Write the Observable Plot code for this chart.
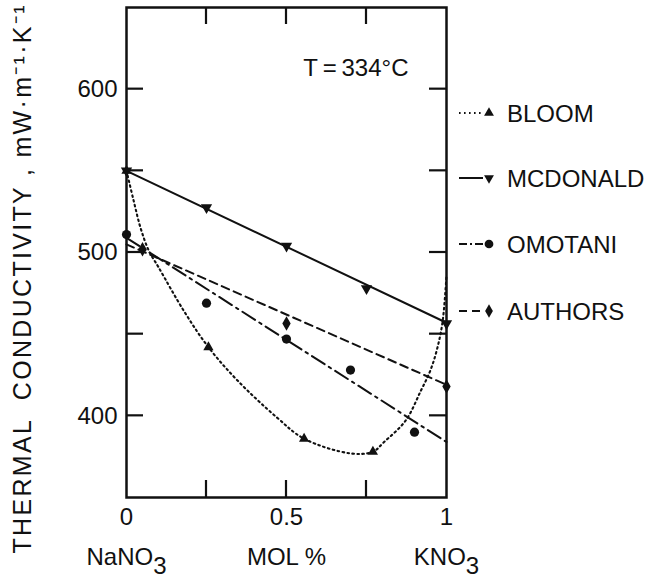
<!DOCTYPE html>
<html>
<head>
<meta charset="utf-8">
<script src="https://cdn.jsdelivr.net/npm/d3@7"></script>
<script src="https://cdn.jsdelivr.net/npm/@observablehq/plot@0.6"></script>
<style>
  body { margin: 0; background: #fff; }
  #chart svg { display: block; }
</style>
</head>
<body>
<div id="chart"></div>
<script>
// Thermal conductivity of NaNO3–KNO3 mixtures at 334 °C (mW·m⁻¹·K⁻¹)

// Measured points, mole fraction KNO3 vs conductivity
const bloomX = [0, 0.256, 0.555, 0.77];
const bloomK = [550, 442, 386, 378];
const mcdonaldX = [0, 0.25, 0.5, 0.75, 1];
const mcdonaldK = [550, 527.5, 504, 478, 456.5];
const omotaniX = [0, 0.25, 0.5, 0.7, 0.9];
const omotaniK = [511, 469, 447, 428, 390];
const authorsX = [0.05, 0.5, 1];
const authorsK = [502, 456.5, 418];

// Fitted curves through each series
const bloomFitX = [0, 0.022, 0.044, 0.07, 0.1, 0.18, 0.256, 0.347, 0.47, 0.555, 0.7, 0.77, 0.805, 0.872, 0.919, 0.95, 0.972, 0.988, 1];
const bloomFitK = [550, 532, 515, 501, 491, 464, 442, 421.6, 399, 386, 377, 378, 384, 397, 415, 428, 442, 458, 486];
const mcdonaldFitX = [0, 1];
const mcdonaldFitK = [550, 457];
const omotaniFitX = [0, 1];
const omotaniFitK = [509, 384];
const authorsFitX = [0, 1];
const authorsFitK = [505, 419];

// Axis ticks and labels
const kTicks = [400, 450, 500, 550, 600];
const kLabels = [400, 500, 600];
const xTicks = [0.25, 0.5, 0.75];
const xLabels = [0, 0.5, 1];
const compX = [0, 0.5, 1];
const compNames = ["NaNO₃", "MOL %", "KNO₃"];
const seriesNames = ["BLOOM", "MCDONALD", "OMOTANI", "AUTHORS"];
const yTitle = "THERMAL  CONDUCTIVITY , mW·m⁻¹·K⁻¹";
const tempNote = "T\u2009=\u2009334°C";

const rows = (xs, ks) => xs.map((x, i) => ({x, k: ks[i]}));

const font = "'Liberation Sans', Arial, sans-serif";
const ink = "#111";
const dashes = {
  BLOOM: "1.6,3.4",
  MCDONALD: null,
  OMOTANI: "15,5,2.5,5",
  AUTHORS: "8,5"
};
const lineOpts = (name, extra = {}) => ({
  x: "x", y: "k", stroke: ink, strokeWidth: 2,
  strokeDasharray: dashes[name], ...extra
});

const W = 652, H = 581;
const M = {top: 7, right: 206, bottom: 84, left: 126};
const tick = 17;

const chart = Plot.plot({
  width: W,
  height: H,
  marginTop: M.top,
  marginRight: M.right,
  marginBottom: M.bottom,
  marginLeft: M.left,
  x: {domain: [0, 1]},
  y: {domain: [350, 650]},
  style: {fontFamily: font, fontSize: "24px", color: ink, background: "#fff"},
  marks: [
    Plot.line(rows(bloomFitX, bloomFitK), lineOpts("BLOOM", {curve: "catmull-rom", strokeWidth: 2.1})),
    Plot.line(rows(mcdonaldFitX, mcdonaldFitK), lineOpts("MCDONALD")),
    Plot.line(rows(omotaniFitX, omotaniFitK), lineOpts("OMOTANI")),
    Plot.line(rows(authorsFitX, authorsFitK), lineOpts("AUTHORS")),

    Plot.dot(rows(bloomX, bloomK), {x: "x", y: "k", symbol: "triangle", r: 3.8, fill: ink}),
    Plot.dot(rows(mcdonaldX, mcdonaldK), {x: "x", y: "k", symbol: "triangle", rotate: 180, r: 4.2, fill: ink}),
    Plot.dot(rows(omotaniX, omotaniK), {x: "x", y: "k", r: 4.6, fill: ink}),
    Plot.dot(rows(authorsX, authorsK), {x: "x", y: "k", symbol: "diamond", r: 4.4, fill: ink}),

    Plot.frame({stroke: ink, strokeWidth: 2.5}),

    // tick labels
    Plot.axisY(kLabels, {anchor: "left", tickSize: 0, tickPadding: 9, label: null, fontSize: 24}),
    Plot.axisX(xLabels, {anchor: "bottom", tickSize: 0, tickPadding: 10, label: null, fontSize: 24,
      tickFormat: d => String(d)}),

    // composition labels under the axis
    Plot.text(compX.map((x, i) => ({x, name: compNames[i]})), {
      x: "x", text: "name", frameAnchor: "bottom", lineAnchor: "middle", dy: 60, fontSize: 24, fill: ink
    }),

    // y title, reading upward from the bottom
    Plot.text([yTitle], {
      frameAnchor: "left", rotate: -90, textAnchor: "start", dx: -104, dy: 301, fontSize: 25, fill: ink, text: d => d
    }),

    // temperature note
    Plot.text([tempNote], {
      frameAnchor: "top-right", textAnchor: "end", lineAnchor: "top", dx: -38, dy: 51, fontSize: 24, fill: ink, text: d => d
    })
  ]
});

document.getElementById("chart").appendChild(chart);

const svg = d3.select(chart);
svg.selectAll("text").style("white-space", "pre");

// subscripted 3 drawn at near full size, lowered; y title stretched along the side
svg.selectAll("text").each(function () {
  const t = this.textContent;
  if (t.includes("₃")) {
    const el = d3.select(this);
    el.text(null);
    el.append("tspan").text(t.replace("₃", ""));
    el.append("tspan").attr("dy", "0.38em").text("3");
  }
  if (t === yTitle) d3.select(this).attr("textLength", 548).attr("lengthAdjust", "spacing");
});

// ticks pointing into the frame on all four sides, placed with the chart's scales
const xs = chart.scale("x"), ys = chart.scale("y");
const x0 = xs.range[0], x1 = xs.range[1];
const y0 = ys.range[0], y1 = ys.range[1];
const tg = svg.append("g").attr("stroke", ink).attr("stroke-width", 2.2);
kTicks.forEach(v => {
  const py = ys.apply(v);
  tg.append("line").attr("x1", x0).attr("x2", x0 + tick).attr("y1", py).attr("y2", py);
  tg.append("line").attr("x1", x1).attr("x2", x1 - tick).attr("y1", py).attr("y2", py);
});
xTicks.forEach(v => {
  const px = xs.apply(v);
  tg.append("line").attr("x1", px).attr("x2", px).attr("y1", y0).attr("y2", y0 - tick);
  tg.append("line").attr("x1", px).attr("x2", px).attr("y1", y1).attr("y2", y1 + tick);
});

// legend to the right of the frame
const symbols = {
  BLOOM: {type: d3.symbolTriangle, rotate: 0, size: 42},
  MCDONALD: {type: d3.symbolTriangle, rotate: 180, size: 42},
  OMOTANI: {type: d3.symbolCircle, rotate: 0, size: 60},
  AUTHORS: {type: d3.symbolDiamond, rotate: 0, size: 52}
};
const legendY = [113, 178, 244, 311];
const lg = svg.append("g")
  .attr("font-family", font)
  .attr("font-size", 24)
  .attr("fill", ink)
  .attr("text-anchor", "start");
seriesNames.forEach((name, i) => {
  const y = legendY[i];
  const g = lg.append("g").attr("transform", `translate(0,${y})`);
  g.append("line")
    .attr("x1", 459).attr("x2", 483).attr("y1", 0).attr("y2", 0)
    .attr("stroke", ink).attr("stroke-width", 2)
    .attr("stroke-dasharray", name === "OMOTANI" ? "8,3,2,3" : dashes[name]);
  const s = symbols[name];
  g.append("path")
    .attr("d", d3.symbol(s.type, s.size)())
    .attr("transform", `translate(489,0) rotate(${s.rotate})`)
    .attr("fill", ink);
  g.append("text").attr("x", 507).attr("dy", "0.36em").attr("text-anchor", "start").text(name);
});
</script>
</body>
</html>
